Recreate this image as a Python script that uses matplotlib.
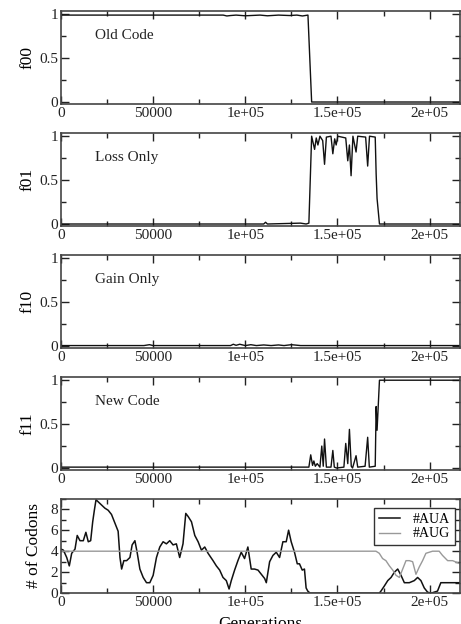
import matplotlib.pyplot as plt
from matplotlib.ticker import MultipleLocator, FuncFormatter

plt.rcParams['font.family'] = ['Liberation Serif', 'DejaVu Serif']

# --- data ---
f00_gen = [0, 20000, 40000, 60000, 88000, 90000, 92000, 95000, 100000, 108000,
           112000, 118000, 124000, 128000, 131000, 134000, 136000, 216500]
f00_val = [0.99, 0.99, 0.99, 0.99, 0.99, 0.98, 0.985, 0.99, 0.982, 0.99,
           0.982, 0.99, 0.985, 0.99, 0.98, 0.99, 0.0, 0.0]

f01_gen = [0, 60000, 110000, 111000, 112000, 130000, 133000, 134500, 136000,
           137600, 138500, 139400, 140500, 142000, 143000, 144000, 146500,
           147500, 148500, 149300, 150200, 154500, 155600, 156500, 157400,
           158400, 160100, 161000, 165300, 166400, 167400, 170500, 171000,
           171500, 172800, 216500]
f01_val = [0.0, 0.0, 0.0, 0.02, 0.0, 0.01, 0.0, 0.01, 1.0,
           0.85, 0.98, 0.9, 1.0, 0.95, 0.68, 0.99, 1.0,
           0.8, 0.97, 0.9, 1.0, 0.98, 0.72, 0.9, 0.55,
           1.0, 0.82, 1.0, 0.99, 0.66, 1.0, 0.99, 0.57,
           0.29, 0.0, 0.0]

f10_gen = [0, 45000, 48000, 50000, 92000, 93500, 95000, 97000, 100000, 103000,
           106000, 110000, 114000, 118000, 121000, 125000, 130000, 216500]
f10_val = [0.005, 0.005, 0.015, 0.005, 0.005, 0.02, 0.008, 0.02, 0.005, 0.015,
           0.005, 0.012, 0.005, 0.012, 0.005, 0.015, 0.005, 0.005]

f11_gen = [0, 134500, 135500, 136500, 137200, 138000, 139000, 140500, 141500,
           142300, 143000, 144000, 146500, 147500, 148300, 149500, 153500,
           154500, 155600, 156500, 157500, 158200, 160100, 161000, 165000,
           166400, 167300, 170500, 171000, 171500, 172800, 216500]
f11_val = [0.01, 0.01, 0.15, 0.03, 0.08, 0.02, 0.05, 0.01, 0.25,
           0.02, 0.33, 0.01, 0.01, 0.2, 0.01, 0.0, 0.01,
           0.28, 0.05, 0.44, 0.02, 0.0, 0.14, 0.01, 0.02,
           0.35, 0.01, 0.02, 0.7, 0.43, 1.0, 1.0]

aua_gen = [0, 1300, 3100, 4500, 5800, 7600, 8800, 10300, 12100, 13500, 14800,
           16100, 17200, 18100, 19000, 20200, 22000, 23800, 25600, 27400, 29200,
           31000, 32000, 32900, 34100, 35600, 37400, 38600, 40100, 41300, 42800,
           44600, 46400, 48200, 50000, 51800, 53600, 55400, 57200, 59000, 60800,
           62600, 64400, 66200, 67700, 69000, 70800, 72600, 74400, 76200, 78000,
           79800, 82500, 84300, 86100, 87900, 89700, 91200, 92400, 94200, 96000,
           97800, 99600, 101400, 103200, 105000, 106900, 108700, 110500, 111400,
           113200, 115000, 116800, 118600, 120400, 122200, 123500, 124900,
           126700, 128200, 129400, 130900, 132100, 133000, 133900, 135200,
           172700, 173600, 175500, 177300, 179100, 180900, 182700, 184500,
           186300, 189000, 191700, 193500, 195300, 197100, 198900, 200700,
           204300, 206100, 208900, 212500, 216500]
aua_val = [4.2, 4.1, 3.4, 2.6, 3.8, 4.2, 5.5, 5.0, 5.0, 5.8, 4.9,
           5.0, 6.8, 7.9, 8.9, 8.7, 8.4, 8.1, 7.9, 7.5, 6.7,
           5.9, 3.4, 2.3, 3.1, 3.1, 3.4, 4.6, 5.0, 3.9, 2.3,
           1.5, 1.0, 1.0, 1.7, 3.4, 4.4, 4.9, 4.7, 5.0, 4.6,
           4.7, 3.4, 4.7, 7.6, 7.3, 6.8, 5.5, 4.9, 4.1, 4.4,
           3.8, 3.1, 2.6, 2.2, 1.5, 1.2, 0.4, 1.2, 2.2, 3.1,
           3.9, 3.3, 4.4, 2.3, 2.3, 2.2, 1.8, 1.4, 1.0,
           3.0, 3.6, 3.9, 3.4, 4.9, 4.9, 6.0, 4.9,
           3.9, 2.8, 2.8, 2.2, 2.3, 0.5, 0.2, 0.0,
           0.0, 0.2, 0.7, 1.2, 1.5, 2.0, 2.3, 1.7,
           1.0, 1.0, 1.2, 1.5, 1.2, 0.5, 0.1, 0.0,
           0.2, 1.0, 1.0, 1.0, 1.0]

aug_gen = [0, 170900, 172700, 174500, 176300, 178200, 180000, 181800, 183600,
           185400, 187200, 189000, 190800, 192600, 194400, 196200, 198000,
           199800, 201600, 205200, 207000, 209800, 212500, 216500]
aug_val = [4.0, 4.0, 3.8, 3.3, 3.1, 2.6, 2.2, 1.7, 1.5,
           2.3, 3.1, 3.1, 3.0, 1.8, 2.5, 3.1, 3.8,
           3.9, 4.0, 4.0, 3.6, 3.1, 3.1, 2.8]

panels = [(f00_gen, f00_val, "f00", "Old Code"),
          (f01_gen, f01_val, "f01", "Loss Only"),
          (f10_gen, f10_val, "f10", "Gain Only"),
          (f11_gen, f11_val, "f11", "New Code")]

W, H = 461, 624
fig = plt.figure(figsize=(W / 100, H / 100), dpi=100)

left = 61 / W
width = 399 / W
ph = 93.5 / H


def style(ax):
    ax.set_xlim(0, 216500)
    ax.xaxis.set_major_locator(MultipleLocator(50000))
    ax.xaxis.set_minor_locator(MultipleLocator(25000))
    ax.xaxis.set_major_formatter(FuncFormatter(
        lambda v, p: {0: "0", 50000: "50000", 100000: "1e+05",
                      150000: "1.5e+05", 200000: "2e+05"}.get(int(round(v)), "")))
    ax.tick_params(which="both", direction="in", top=True, right=True,
                   labelsize=11, colors="#222222", pad=2)
    ax.tick_params(which="major", length=6, width=1)
    ax.tick_params(which="minor", length=3.5, width=1)
    for s in ax.spines.values():
        s.set_color("#444444")
        s.set_linewidth(1.2)


for i, (g, v, lab, txt) in enumerate(panels):
    top = 10.7 + 122 * i
    ax = fig.add_axes([left, 1 - (top + 93.5) / H, width, ph])
    ax.plot(g, v, color="#111111", lw=1)
    ax.set_ylim(-0.025, 1.04)
    ax.yaxis.set_major_locator(MultipleLocator(0.5))
    ax.yaxis.set_minor_locator(MultipleLocator(0.25))
    ax.yaxis.set_major_formatter(FuncFormatter(
        lambda val, p: {0: "0", 0.5: "0.5", 1: "1"}.get(round(val, 2), "")))
    style(ax)
    ax.set_ylabel(lab, fontsize=12.5, labelpad=3)
    ax.text(0.085, 0.73, txt, transform=ax.transAxes, fontsize=11,
            va="center", ha="left", color="#222222")

top = 10.7 + 122 * 4
ax = fig.add_axes([left, 1 - (top + 94.5) / H, width, 94.5 / H])
ax.plot(aua_gen, aua_val, color="#111111", lw=1.1, label="#AUA")
ax.plot(aug_gen, aug_val, color="#999999", lw=1, label="#AUG")
ax.set_ylim(0, 9)
ax.yaxis.set_major_locator(MultipleLocator(2))
ax.yaxis.set_minor_locator(MultipleLocator(1))
style(ax)
ax.set_ylabel("# of Codons", fontsize=12.5, labelpad=6)
ax.set_xlabel("Generations", fontsize=12.5, labelpad=5)
leg = ax.legend(loc="upper left", bbox_to_anchor=(0.784, 0.90), borderaxespad=0,
                fontsize=10, frameon=True, fancybox=False, edgecolor="#333333",
                framealpha=1, handlelength=1.5, borderpad=0.35,
                labelspacing=0.1, handletextpad=0.95)
leg.get_frame().set_linewidth(1.0)

fig.savefig("out.png", dpi=100)
